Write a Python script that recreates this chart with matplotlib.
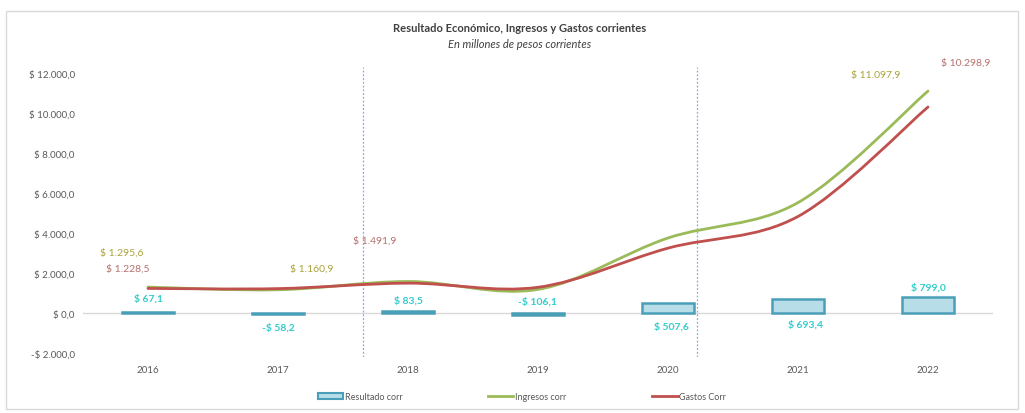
import matplotlib
matplotlib.use("Agg")
import matplotlib.pyplot as plt
from matplotlib.path import Path
from matplotlib.patches import PathPatch, Rectangle, Patch
from matplotlib.lines import Line2D
import numpy as np

plt.rcParams['font.family'] = ['Lato', 'DejaVu Sans']

years = ["2016", "2017", "2018", "2019", "2020", "2021", "2022"]
resultado = [67.1, -58.2, 83.5, -106.1, 507.6, 693.4, 799.0]
ingresos = [1295.6, 1160.9, 1575.4, 1180.0, 3750.0, 5520.0, 11097.9]
gastos = [1228.5, 1219.1, 1491.9, 1286.1, 3242.4, 4826.6, 10298.9]
yticks = [-2000, 0, 2000, 4000, 6000, 8000, 10000, 12000]
vlines = [1.654, 4.223]

# resultado labels: offsets in pixels from the zero line
res_offsets = [(0, 15), (0, -14), (0, 13), (0, 12), (3, -13), (8, -11), (0, 26)]
ing_labels = {0: (-26, 35), 1: (34, 22), 6: (-52, 17)}
gas_labels = {0: (-20, 20), 2: (-33, 43), 6: (38, 45)}

W, H = 1025, 414
fig = plt.figure(figsize=(W / 100, H / 100), dpi=100)
fig.patches.append(Rectangle((6 / W, 4 / H), 1012 / W, 398 / H, transform=fig.transFigure,
                             fill=False, edgecolor='#d9d9d9', linewidth=1))
ax = fig.add_axes([83 / W, 56 / H, 910 / W, 290 / H])

def fmt(v):
    s = f"{abs(v):,.1f}".replace(",", "X").replace(".", ",").replace("X", ".")
    return ("-$ " if v < 0 else "$ ") + s

x = np.arange(len(years))
ax.set_xlim(-0.5, 6.5)
ax.set_ylim(-2200, 12300)
ax.axhline(0, color='#d9d9d9', linewidth=1, zorder=0)
for v in vlines:
    ax.axvline(v, color='#5b9bd5', linestyle=(0, (1.5, 1.5)), linewidth=0.9, alpha=0.8, zorder=0)

bars = ax.bar(x, resultado, width=0.4, color='#b7dde8', edgecolor='#4a9fb8', linewidth=1.8, zorder=2)

def smooth_path(xs, ys):
    pts = np.column_stack([xs, ys]).astype(float)
    n = len(pts)
    verts = [pts[0]]
    codes = [Path.MOVETO]
    for i in range(n - 1):
        p0 = pts[i - 1] if i > 0 else pts[i]
        p1 = pts[i]
        p2 = pts[i + 1]
        p3 = pts[i + 2] if i + 2 < n else pts[i + 1]
        c1 = p1 + (p2 - p0) / 6
        c2 = p2 - (p3 - p1) / 6
        verts += [c1, c2, p2]
        codes += [Path.CURVE4] * 3
    return Path(verts, codes)

ax.add_patch(PathPatch(smooth_path(x, ingresos), fill=False, edgecolor='#9bbb59', linewidth=2, zorder=3,
                       capstyle='round'))
ax.add_patch(PathPatch(smooth_path(x, gastos), fill=False, edgecolor='#c0504d', linewidth=2, zorder=4,
                       capstyle='round'))

for i, v in enumerate(resultado):
    dx, dy = res_offsets[i]
    ax.annotate(fmt(v), (x[i], 0), xytext=(dx, dy), textcoords='offset pixels',
                ha='center', va='center', color='#33cccc', fontsize=7.5, fontweight='bold')
for i, (dx, dy) in ing_labels.items():
    ax.annotate(fmt(ingresos[i]), (x[i], ingresos[i]), xytext=(dx, dy), textcoords='offset pixels',
                ha='center', va='center', color='#aaa33a', fontsize=7.5)
for i, (dx, dy) in gas_labels.items():
    ax.annotate(fmt(gastos[i]), (x[i], gastos[i]), xytext=(dx, dy), textcoords='offset pixels',
                ha='center', va='center', color='#b5706d', fontsize=7.5)

ax.set_yticks(yticks)
ax.set_yticklabels([fmt(v) for v in yticks], fontsize=7, color='#595959')
ax.set_xticks(x)
ax.set_xticklabels(years, fontsize=7, color='#595959')
ax.tick_params(length=0, pad=6)
for s in ax.spines.values():
    s.set_visible(False)

fig.text(520 / W, 1 - 28 / H, "Resultado Económico, Ingresos y Gastos corrientes", ha='center', va='center',
         fontsize=8, fontweight='bold', color='#404040')
fig.text(520 / W, 1 - 44 / H, "En millones de pesos corrientes", ha='center', va='center',
         fontsize=8, style='italic', color='#404040')

handles = [Patch(facecolor='#b7dde8', edgecolor='#4a9fb8', linewidth=1.5),
           Line2D([], [], color='#9bbb59', linewidth=2),
           Line2D([], [], color='#c0504d', linewidth=2)]
fig.legend(handles, ["Resultado corr", "Ingresos corr", "Gastos Corr"], loc='center',
           bbox_to_anchor=(522 / W, 16 / H), ncol=3, frameon=False, fontsize=6.5,
           handlelength=2.8, handleheight=0.6, handletextpad=0.2, columnspacing=9.5, labelcolor='#595959')

fig.savefig("out.png", dpi=100)
